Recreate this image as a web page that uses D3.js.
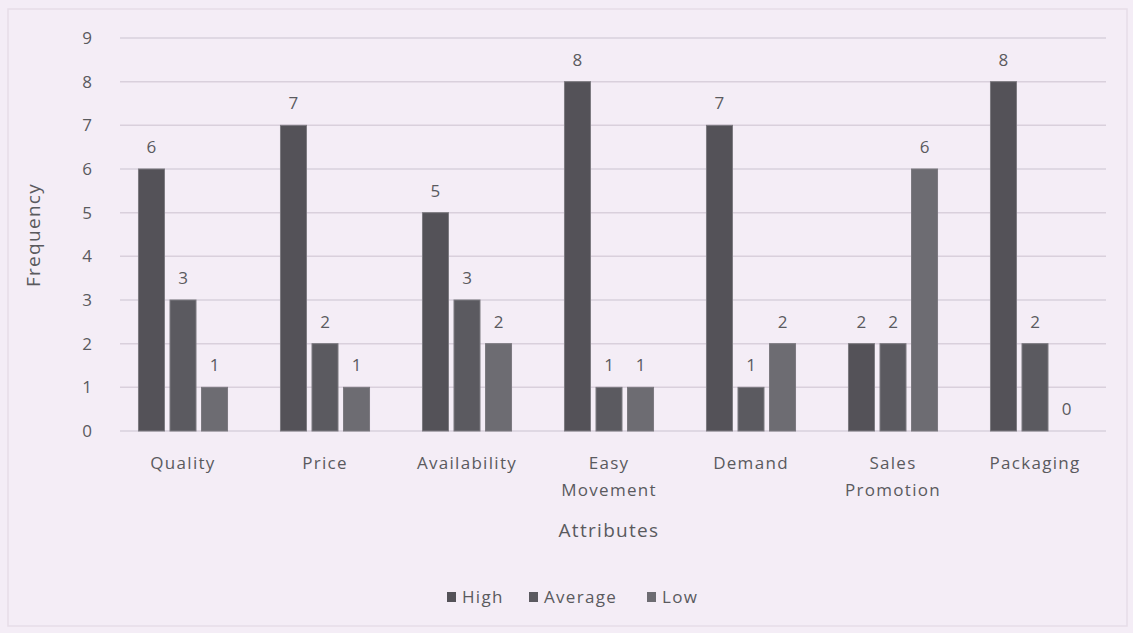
<!DOCTYPE html>
<html>
<head>
<meta charset="utf-8">
<script src="https://cdn.jsdelivr.net/npm/d3@7"></script>
<style>
  body { margin: 0; background: #f4edf6; }
  svg { display: block; font-family: "Open Sans", Lato, sans-serif; }
  .lbl { letter-spacing: 1.3px; }
</style>
</head>
<body>
<svg id="chart"></svg>
<script>
// chart data
const categories = ['Quality', 'Price', 'Availability', 'Easy Movement', 'Demand', 'Sales Promotion', 'Packaging'];
const series = ['High', 'Average', 'Low'];
const high = [6, 7, 5, 8, 7, 2, 8];
const average = [3, 2, 3, 1, 1, 2, 2];
const low = [1, 1, 2, 1, 2, 6, 0];
const yTicks = [0, 1, 2, 3, 4, 5, 6, 7, 8, 9];

const values = [high, average, low];
const colors = ['#545258', '#5b5a60', '#6d6c72'];

const width = 1133, height = 633;
const margin = {top: 38, right: 27, bottom: 202, left: 112};

const svg = d3.select('#chart')
    .attr('width', width)
    .attr('height', height);

// faint outer border like the scanned chart area
svg.append('rect')
    .attr('x', 8).attr('y', 9)
    .attr('width', width - 14).attr('height', height - 16)
    .attr('fill', 'none')
    .attr('stroke', '#e6dde8')
    .attr('stroke-width', 1.5);

const x0 = d3.scaleBand()
    .domain(categories)
    .range([margin.left, width - margin.right]);

const x1 = d3.scaleBand()
    .domain(series)
    .range([0, x0.bandwidth()])
    .paddingInner(0.175)
    .paddingOuter(0.84);

const y = d3.scaleLinear()
    .domain([0, 9])
    .range([height - margin.bottom, margin.top]);

// gridlines
svg.append('g')
    .selectAll('line')
    .data(yTicks)
    .enter()
    .append('line')
    .attr('x1', margin.left + 8)
    .attr('x2', width - margin.right)
    .attr('y1', d => y(d))
    .attr('y2', d => y(d))
    .attr('stroke', '#d9d0dc')
    .attr('stroke-width', 1.5);

// y axis labels
svg.append('g')
    .selectAll('text')
    .data(yTicks)
    .enter()
    .append('text')
    .attr('x', 92)
    .attr('y', d => y(d))
    .attr('dy', '0.35em')
    .attr('text-anchor', 'end')
    .attr('fill', '#5a5a5e')
    .style('font-size', '17px')
    .text(d => d);

// bars
const rows = [];
categories.forEach((c, i) => {
    series.forEach((s, j) => {
        rows.push({cat: c, ser: s, idx: j, value: values[j][i]});
    });
});

const group = svg.append('g');

group.selectAll('rect')
    .data(rows)
    .enter()
    .append('rect')
    .attr('x', d => x0(d.cat) + x1(d.ser))
    .attr('y', d => y(d.value))
    .attr('width', x1.bandwidth())
    .attr('height', d => y(0) - y(d.value))
    .attr('fill', d => colors[d.idx])
    .attr('stroke', '#7c7a80')
    .attr('stroke-width', 1);

// data labels
group.selectAll('text')
    .data(rows)
    .enter()
    .append('text')
    .attr('x', d => x0(d.cat) + x1(d.ser) + x1.bandwidth() / 2)
    .attr('y', d => y(d.value) - 22)
    .attr('dy', '0.35em')
    .attr('text-anchor', 'middle')
    .attr('fill', '#5a5a5e')
    .style('font-size', '17px')
    .text(d => d.value);

// x category labels, wrapped to two lines
const xLabels = svg.append('g')
    .selectAll('text')
    .data(categories)
    .enter()
    .append('text')
    .attr('class', 'lbl')
    .attr('x', d => x0(d) + x0.bandwidth() / 2)
    .attr('y', 469)
    .attr('text-anchor', 'middle')
    .attr('fill', '#5a5a5e')
    .style('font-size', '17px');

xLabels.each(function(d) {
    const words = d.split(' ');
    const t = d3.select(this);
    words.forEach((w, k) => {
        t.append('tspan')
            .attr('x', x0(d) + x0.bandwidth() / 2)
            .attr('dy', k === 0 ? 0 : 27)
            .text(w);
    });
});

// axis titles
svg.append('text')
    .attr('class', 'lbl')
    .attr('x', x0.range()[0] + (x0.range()[1] - x0.range()[0]) / 2)
    .attr('y', 537)
    .attr('text-anchor', 'middle')
    .attr('fill', '#5a5a5e')
    .style('font-size', '19px')
    .text('Attributes');

svg.append('text')
    .attr('class', 'lbl')
    .attr('transform', `translate(40, 235) rotate(-90)`)
    .attr('text-anchor', 'middle')
    .attr('fill', '#5a5a5e')
    .style('font-size', '19px')
    .text('Frequency');

// legend
const legendX = [447, 529, 647];
const legend = svg.append('g')
    .selectAll('g')
    .data(series)
    .enter()
    .append('g')
    .attr('transform', (d, i) => `translate(${legendX[i]}, 597)`);

legend.append('rect')
    .attr('x', 0).attr('y', -5)
    .attr('width', 9).attr('height', 10)
    .attr('fill', (d, i) => colors[i]);

legend.append('text')
    .attr('class', 'lbl')
    .attr('x', 15)
    .attr('dy', '0.35em')
    .attr('fill', '#5a5a5e')
    .style('font-size', '17px')
    .text(d => d);
</script>
</body>
</html>
